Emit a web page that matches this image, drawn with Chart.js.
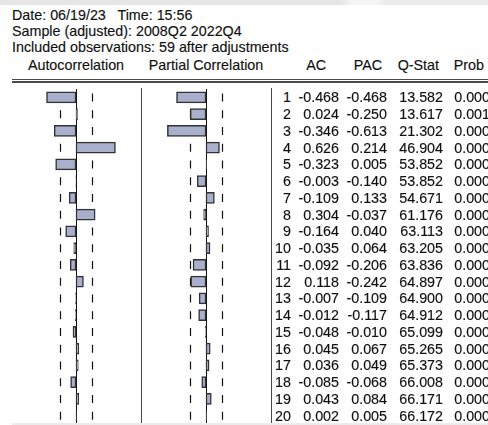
<!DOCTYPE html>
<html>
<head>
<meta charset="utf-8">
<script src="https://cdn.jsdelivr.net/npm/chart.js@4.4.1/dist/chart.umd.min.js"></script>
<style>
  html, body { margin: 0; padding: 0; background: #fff; }
  #page {
    position: relative; width: 488px; height: 425px; overflow: hidden;
    font-family: "Liberation Sans", Arial, sans-serif; font-size: 14.3px;
    line-height: 16px; color: #111;
    -webkit-text-stroke: 0.15px #111;
  }
  #page .t { position: absolute; white-space: pre; }
  #page .r { position: absolute; white-space: pre; text-align: right; }
  .rule { position: absolute; background: #4a4a4a; }
  #topband { position: absolute; left: 0; top: 0; width: 488px; height: 5px;
    background: linear-gradient(100deg, #e6e6e6 0%, #e6e6e6 70%, #f6f6f6 72%, #f6f6f6 77%, #ebebeb 79%, #ebebeb 100%); }
  #botband { position: absolute; left: 12px; top: 423px; width: 476px; height: 2px; background: #ececec; }
  canvas { position: absolute; }
</style>
</head>
<body>
<div id="page">
  <div id="topband"></div>
  <div class="t" style="left:12px; top:7px;">Date: 06/19/23   Time: 15:56</div>
  <div class="t" style="left:12px; top:23px;">Sample (adjusted): 2008Q2 2022Q4</div>
  <div class="t" style="left:12px; top:39px;">Included observations: 59 after adjustments</div>

  <div class="t" style="left:13px; top:56.5px; width:126px; text-align:center;">Autocorrelation</div>
  <div class="t" style="left:143px; top:56.5px; width:126px; text-align:center;">Partial Correlation</div>
  <div class="r" style="right:162px; top:56.5px;">AC</div>
  <div class="r" style="right:106px; top:56.5px;">PAC</div>
  <div class="r" style="right:49px; top:56.5px;">Q-Stat</div>
  <div class="r" style="right:4px; top:56.5px;">Prob</div>

  <div class="rule" style="left:12px; top:78.5px; width:476px; height:1.3px;"></div>
  <div class="rule" style="left:12px; top:81.3px; width:476px; height:1.3px;"></div>

  <div class="rule" style="left:140.5px; top:88px; width:1.2px; height:335px;"></div>
  <div class="rule" style="left:271px; top:88px; width:1.2px; height:335px;"></div>

  <canvas id="acChart" width="126" height="335" style="left:13px; top:89px;"></canvas>
  <canvas id="pacChart" width="126" height="335" style="left:143px; top:89px;"></canvas>
  <div id="botband"></div>
</div>

<script>
const lags = [1, 2, 3, 4, 5, 6, 7, 8, 9, 10, 11, 12, 13, 14, 15, 16, 17, 18, 19, 20];
const acValues = [-0.468, 0.024, -0.346, 0.626, -0.323, -0.003, -0.109, 0.304, -0.164, -0.035,
                  -0.092, 0.118, -0.007, -0.012, -0.048, 0.045, 0.036, -0.085, 0.043, 0.002];
const pacValues = [-0.468, -0.250, -0.613, 0.214, 0.005, -0.140, 0.133, -0.037, 0.040, 0.064,
                   -0.206, -0.242, -0.109, -0.117, -0.010, 0.067, 0.049, -0.068, 0.084, 0.005];
const qStat = [13.582, 13.617, 21.302, 46.904, 53.852, 53.852, 54.671, 61.176, 63.113, 63.205,
               63.836, 64.897, 64.900, 64.912, 65.099, 65.265, 65.373, 66.008, 66.171, 66.172];
const probValues = [0.000, 0.001, 0.000, 0.000, 0.000, 0.000, 0.000, 0.000, 0.000, 0.000,
                    0.000, 0.000, 0.000, 0.000, 0.000, 0.000, 0.000, 0.000, 0.000, 0.000];
const confBound = 0.26; // approx 2/sqrt(59), the dashed band

const barFill = "#a9b0cd";
const barEdge = "#333";

// zero line + short dashes at +/- bound on each row
const guides = {
  id: "guides",
  beforeDatasetsDraw(chart) {
    const { ctx, chartArea, scales } = chart;
    const x = scales.x, y = scales.y;
    ctx.save();
    ctx.strokeStyle = "#111";
    ctx.lineWidth = 1;
    const x0 = Math.round(x.getPixelForValue(0)) + 0.5;
    ctx.beginPath();
    ctx.moveTo(x0, chartArea.top);
    ctx.lineTo(x0, chartArea.bottom);
    ctx.stroke();

    ctx.lineWidth = 1.2;
    ctx.beginPath();
    lags.forEach((lag, i) => {
      const yc = y.getPixelForValue(i);
      [-confBound, confBound].forEach((b) => {
        const px = Math.round(x.getPixelForValue(b)) + 0.5;
        ctx.moveTo(px, yc - 4);
        ctx.lineTo(px, yc + 4);
      });
    });
    ctx.stroke();
    ctx.restore();
  },
};

function panelChart(id, values) {
  return new Chart(document.getElementById(id), {
    type: "bar",
    data: {
      labels: lags,
      datasets: [
        {
          data: values,
          backgroundColor: barFill,
          borderColor: barEdge,
          borderWidth: 1.5,
          borderSkipped: false,
          barThickness: 11,
        },
      ],
    },
    options: {
      indexAxis: "y",
      responsive: false,
      animation: false,
      events: [],
      layout: { padding: 0 },
      plugins: { legend: { display: false }, tooltip: { enabled: false } },
      scales: {
        x: { min: -1, max: 1, display: false },
        y: { display: false },
      },
    },
    plugins: [guides],
  });
}

panelChart("acChart", acValues);
panelChart("pacChart", pacValues);

// numeric columns, rows lined up with the chart rows
const page = document.getElementById("page");
const rowTop = 89, rowH = 335 / lags.length;
const columns = [
  { right: 197, text: (i) => String(lags[i]) },
  { right: 149, text: (i) => acValues[i].toFixed(3) },
  { right: 101, text: (i) => pacValues[i].toFixed(3) },
  { right: 45, text: (i) => qStat[i].toFixed(3) },
  { right: -2, text: (i) => probValues[i].toFixed(3) },
];
lags.forEach((lag, i) => {
  const top = rowTop + rowH * (i + 0.5) + 5 - 12.9;
  columns.forEach((col) => {
    const d = document.createElement("div");
    d.className = "r";
    d.style.right = col.right + "px";
    d.style.top = top.toFixed(2) + "px";
    d.textContent = col.text(i);
    page.appendChild(d);
  });
});
</script>
</body>
</html>
